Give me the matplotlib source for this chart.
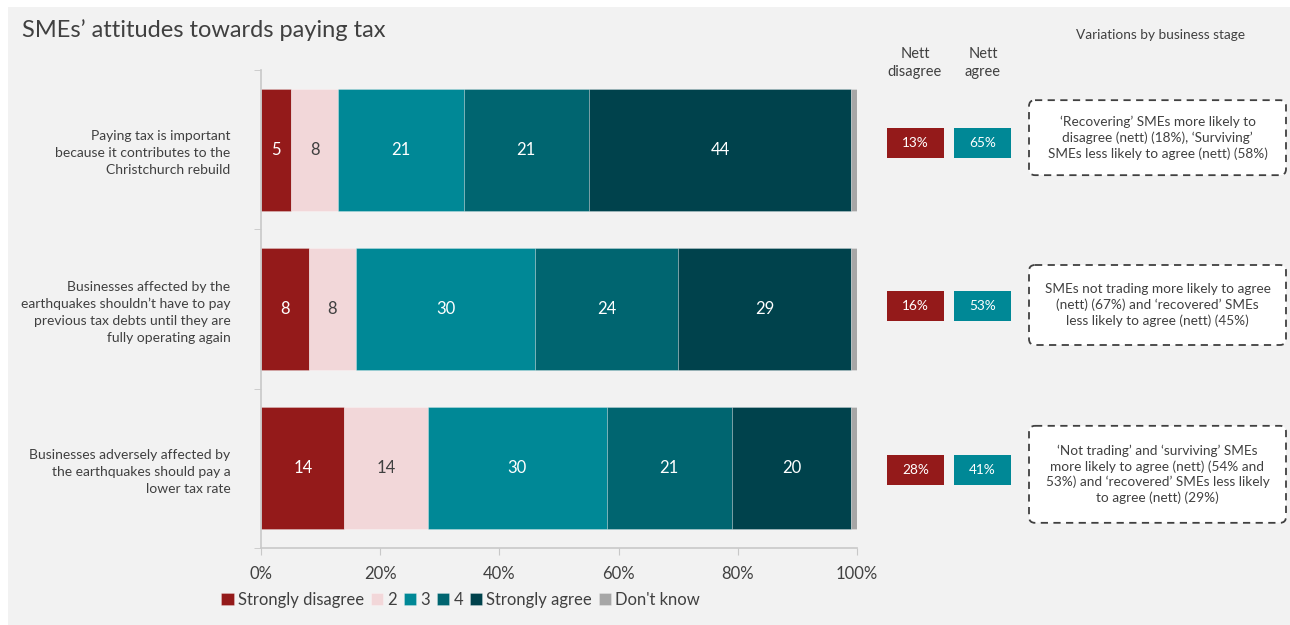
import numpy as np
import matplotlib.pyplot as plt
from matplotlib.patches import Rectangle, FancyBboxPatch

plt.rcParams['font.family'] = ['Lato', 'DejaVu Sans']

statements = [
    "Paying tax is important\nbecause it contributes to the\nChristchurch rebuild",
    "Businesses affected by the\nearthquakes shouldn\u2019t have to pay\nprevious tax debts until they are\nfully operating again",
    "Businesses adversely affected by\nthe earthquakes should pay a\nlower tax rate",
]
series_names = ["Strongly disagree", "2", "3", "4", "Strongly agree", "Don't know"]
strongly_disagree = [5, 8, 14]
disagree = [8, 8, 14]
neutral = [21, 30, 30]
agree = [21, 24, 21]
strongly_agree = [44, 29, 20]
dont_know = [1, 1, 1]
nett_disagree = [13, 16, 28]
nett_agree = [65, 53, 41]
notes = [
    "\u2018Recovering\u2019 SMEs more likely to\ndisagree (nett) (18%), \u2018Surviving\u2019\nSMEs less likely to agree (nett) (58%)",
    "SMEs not trading more likely to agree\n(nett) (67%) and \u2018recovered\u2019 SMEs\nless likely to agree (nett) (45%)",
    "\u2018Not trading\u2019 and \u2018surviving\u2019 SMEs\nmore likely to agree (nett) (54% and\n53%) and \u2018recovered\u2019 SMEs less likely\nto agree (nett) (29%)",
]

colors = ["#941a1a", "#f2d7d9", "#008896", "#006570", "#00424c", "#a6a6a6"]
label_colors = ["white", "#404040", "white", "white", "white", None]
txt = "#404040"
grid_c = "#c8c8c8"

# vertical nudges (pixels) for the side boxes, and note box heights
nett_shift = [-7, -3, 2]
note_shift = [-12, -4, 6]
note_height = [75, 80, 97]

W, H = 1290, 625
fig = plt.figure(figsize=(W / 100, H / 100), dpi=100, facecolor="white")
fig.patches.append(Rectangle((8 / W, 0), 1, 1 - 7 / H, transform=fig.transFigure,
                             facecolor="#f2f2f2", edgecolor="none", zorder=-10))


def px(x0, y0, x1, y1):
    return [x0 / W, 1 - y1 / H, (x1 - x0) / W, (y1 - y0) / H]


ax = fig.add_axes(px(261, 70, 857, 548))
ax.set_facecolor("none")

y = np.arange(len(statements))
data = [strongly_disagree, disagree, neutral, agree, strongly_agree, dont_know]
left = np.zeros(len(statements))
for vals, name, col, lc in zip(data, series_names, colors, label_colors):
    vals = np.array(vals, dtype=float)
    ax.barh(y, vals, left=left, height=0.766, color=col, label=name,
            edgecolor=(1, 1, 1, 0.35), linewidth=0.5)
    if lc:
        for yi, v, l in zip(y, vals, left):
            ax.text(l + v / 2, yi, f"{v:g}", ha="center", va="center",
                    color=lc, fontsize=12)
    left += vals

ax.set_xlim(0, 100)
ax.set_ylim(len(statements) - 0.5, -0.5)
ax.set_xticks(np.arange(0, 101, 20))
ax.set_xticklabels([f"{t}%" for t in range(0, 101, 20)])
ax.set_yticks(y)
ax.set_yticklabels(statements, fontsize=10, color=txt, linespacing=1.5)
ax.set_yticks(np.arange(-0.5, len(statements)), minor=True)
ax.tick_params(axis="y", which="major", length=0, pad=22)
ax.tick_params(axis="y", which="minor", length=5, color=grid_c)
ax.tick_params(axis="x", length=5, color=grid_c, labelcolor=txt,
               labelsize=12, pad=8)
for s in ["top", "right"]:
    ax.spines[s].set_visible(False)
for s in ["left", "bottom"]:
    ax.spines[s].set_color(grid_c)
    ax.spines[s].set_linewidth(1.2)

# nett columns and notes share the bar rows
ax2 = fig.add_axes(px(870, 70, 1290, 548), sharey=ax)
ax2.set_xlim(870, 1290)
ax2.axis("off")
row_h = 478 / len(statements)
ny = y + np.array(nett_shift) / row_h
ax2.barh(ny, 57, left=887, height=30 / row_h, color=colors[0])
ax2.barh(ny, 57, left=954, height=30 / row_h, color=colors[2])
for yi, d, a in zip(ny, nett_disagree, nett_agree):
    ax2.text(915.5, yi, f"{d}%", ha="center", va="center", color="white", fontsize=9.8)
    ax2.text(982.5, yi, f"{a}%", ha="center", va="center", color="white", fontsize=9.8)

for yi, note, sh, nh in zip(y, notes, note_shift, note_height):
    yc = yi + sh / row_h
    h = nh / row_h
    ax2.add_patch(FancyBboxPatch((1029, yc - h / 2), 257, h,
                                 boxstyle="round,pad=0,rounding_size=6",
                                 mutation_aspect=1 / row_h,
                                 facecolor="white", edgecolor="#404040",
                                 linewidth=1.3, linestyle=(0, (4, 3))))
    ax2.text(1157.5, yc, note, ha="center", va="center", color=txt,
             fontsize=9.8, linespacing=1.3)

fig.text(22 / W, 1 - 30 / H, "SMEs\u2019 attitudes towards paying tax",
         fontsize=17, color=txt, va="center")
fig.text(915 / W, 1 - 63 / H, "Nett\ndisagree", ha="center", va="center",
         fontsize=10.5, color=txt, linespacing=1.3)
fig.text(983 / W, 1 - 63 / H, "Nett\nagree", ha="center", va="center",
         fontsize=10.5, color=txt, linespacing=1.3)
fig.text(1160 / W, 1 - 35 / H, "Variations by business stage", ha="center",
         va="center", fontsize=9.8, color=txt)

fig.legend(*ax.get_legend_handles_labels(), loc="center left",
           bbox_to_anchor=(213 / W, 1 - 600 / H), ncol=6, frameon=False,
           fontsize=12, labelcolor=txt, handlelength=0.75, handleheight=0.75,
           handletextpad=0.25, columnspacing=0.4, borderpad=0)

fig.savefig("out.png", dpi=100, facecolor=fig.get_facecolor())
